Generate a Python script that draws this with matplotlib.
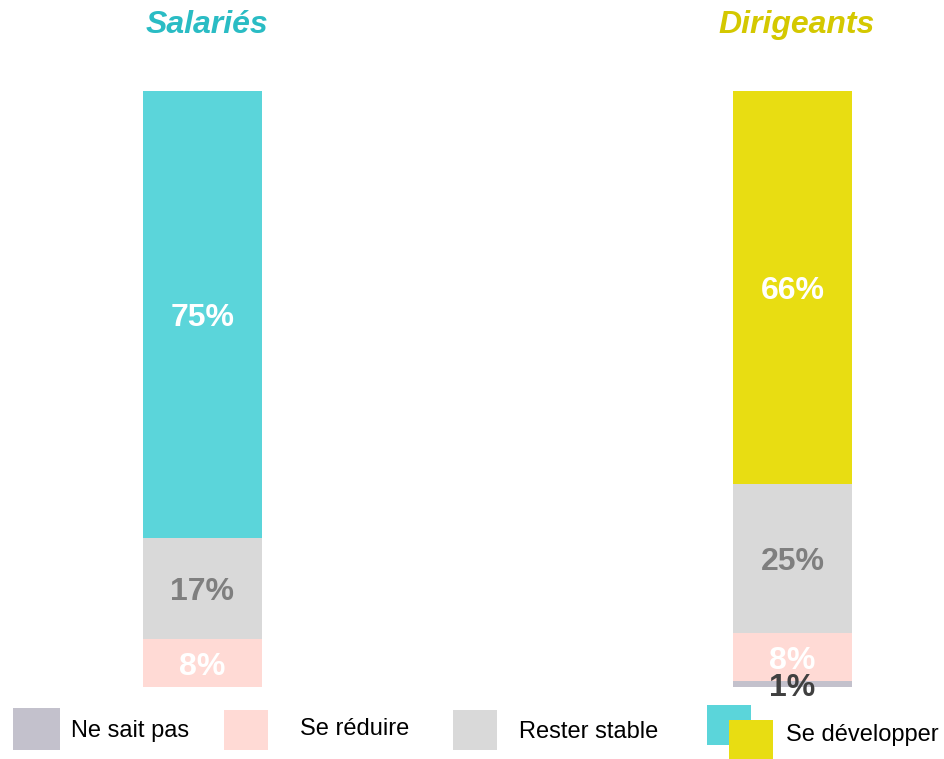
import matplotlib
matplotlib.use("Agg")
import matplotlib.pyplot as plt
from matplotlib.patches import Rectangle

plt.rcParams['font.family'] = ['Liberation Sans', 'DejaVu Sans']

groups = ["Salariés", "Dirigeants"]
series = ["Ne sait pas", "Se réduire", "Rester stable", "Se développer"]
ne_sait_pas = [0, 1]
se_reduire = [8, 8]
rester_stable = [17, 25]
se_developper = [75, 66]
values = [ne_sait_pas, se_reduire, rester_stable, se_developper]

colors = {
    "Ne sait pas": ["#C3C1CC", "#C3C1CC"],
    "Se réduire": ["#FFDAD5", "#FFDAD5"],
    "Rester stable": ["#D9D9D9", "#D9D9D9"],
    "Se développer": ["#5BD5DA", "#E8DD12"],
}
label_colors = {
    "Ne sait pas": "#404040",
    "Se réduire": "white",
    "Rester stable": "#7F7F7F",
    "Se développer": "white",
}
title_colors = ["#2ABCC4", "#D4C800"]

W, H = 944, 759
fig = plt.figure(figsize=(W / 100, H / 100), dpi=100)
ax = fig.add_axes([0, 72 / H, 1, 596 / H])
x = [0, 1]
bottoms = [0, 0]
for name, vals in zip(series, values):
    ax.bar(x, vals, width=119 / 590, bottom=bottoms, color=colors[name], linewidth=0)
    for i, v in enumerate(vals):
        if v > 0:
            ax.text(x[i], bottoms[i] + v / 2, f"{v}%", ha="center", va="center_baseline",
                    fontsize=23, fontweight="bold", color=label_colors[name])
    bottoms = [b + v for b, v in zip(bottoms, vals)]

ax.set_xlim(-202.5 / 590, 1 + (W - 792.5) / 590)
ax.set_ylim(0, 100)
ax.axis("off")

for i, g in enumerate(groups):
    ax.text(x[i] + 4 / 590, (687 - 33) / 5.96, g, ha="center", va="baseline", fontsize=23,
            fontweight="bold", fontstyle="italic", color=title_colors[i], clip_on=False)

# legend
def box(x0, y0, x1, y1, c):
    fig.patches.append(Rectangle((x0 / W, 1 - y1 / H), (x1 - x0) / W, (y1 - y0) / H,
                                 transform=fig.transFigure, color=c, linewidth=0))

box(13, 708, 60, 750, colors["Ne sait pas"][0])
box(224, 710, 268, 750, colors["Se réduire"][0])
box(453, 710, 497, 750, colors["Rester stable"][0])
box(707, 705, 751, 745, colors["Se développer"][0])
box(729, 720, 773, 759, colors["Se développer"][1])
fs = 17
fig.text(71 / W, 1 - 731 / H, series[0], fontsize=fs, va="center", ha="left")
fig.text(300 / W, 1 - 729 / H, series[1], fontsize=fs, va="center", ha="left")
fig.text(519 / W, 1 - 732 / H, series[2], fontsize=fs, va="center", ha="left")
fig.text(786 / W, 1 - 735 / H, series[3], fontsize=fs, va="center", ha="left")

fig.savefig("out.png", dpi=100, facecolor="white")
